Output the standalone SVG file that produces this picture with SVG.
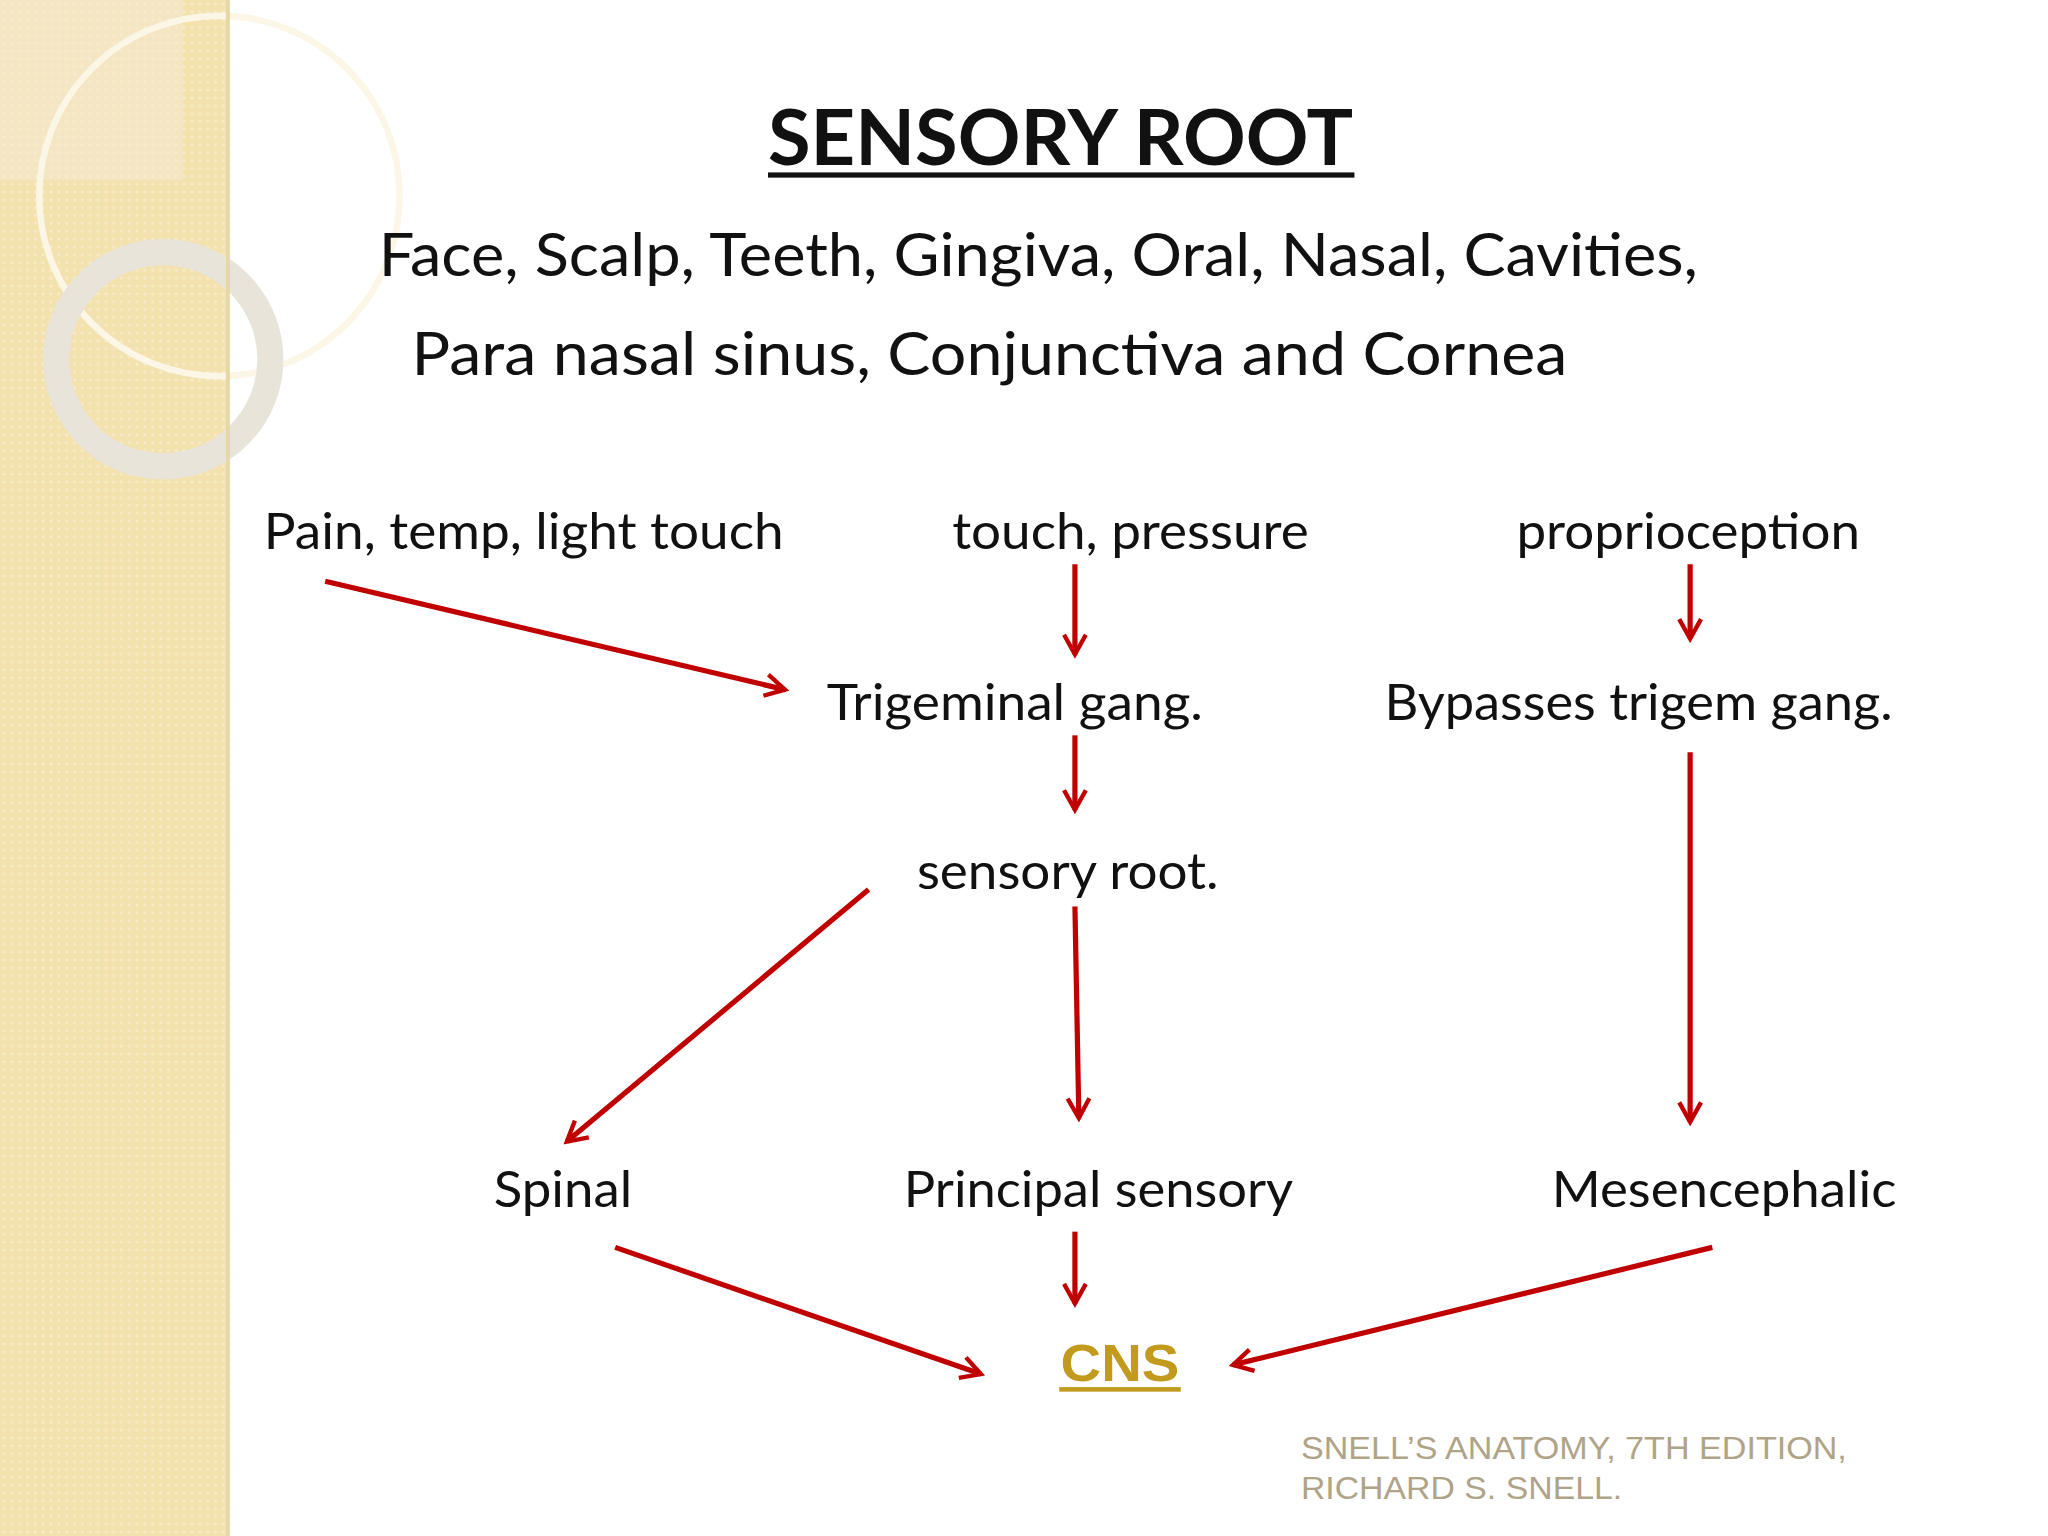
<svg xmlns="http://www.w3.org/2000/svg" width="2048" height="1536" viewBox="0 0 2048 1536">
<defs>
<style>
.t{font-family:Lato,"Open Sans",sans-serif;font-size:38px;fill:#111}
.a{stroke:#c00000;stroke-width:4;fill:none;marker-end:url(#ah)}
</style>
<marker id="ah" viewBox="0 0 12 12" refX="10" refY="6" markerWidth="5" markerHeight="5" orient="auto" markerUnits="strokeWidth">
<path d="M1,1 L10,6 L1,11" fill="none" stroke="#c00000" stroke-width="2"/>
</marker>
<pattern id="pt" width="6" height="6" patternUnits="userSpaceOnUse">
<rect width="6" height="6" fill="#f3e1ae"/><circle cx="3" cy="3" r="1.3" fill="#f8ecc8"/>
</pattern>
</defs>
<rect width="2048" height="1536" fill="#fff"/>
<g transform="scale(1.30612)">
<g id="band">
<rect x="0" y="0" width="173" height="1176" fill="url(#pt)"/>
<rect x="0" y="0" width="140" height="138" fill="#f6ead0" opacity="0.6"/>
<circle cx="168" cy="150" r="138" fill="none" stroke="#fbf6e6" stroke-width="5"/>
<circle cx="125" cy="275" r="82" fill="none" stroke="#e8e4da" stroke-width="20"/>
<rect x="173" y="0" width="3" height="1176" fill="#e6d7a8"/>
</g>
<g id="title">
<text x="812" y="126" text-anchor="middle" style="font-family:Lato,sans-serif;font-weight:bold;font-size:58px;fill:#111" textLength="448" lengthAdjust="spacingAndGlyphs">SENSORY ROOT</text>
<rect x="588" y="132" width="449" height="4" fill="#111"/>
</g>
<g id="subtitle">
<text class="t" x="290" y="211" style="font-size:46px" textLength="1010" lengthAdjust="spacingAndGlyphs">Face, Scalp, Teeth, Gingiva, Oral, Nasal, Cavities,</text>
<text class="t" x="315" y="287" style="font-size:46px" textLength="885" lengthAdjust="spacingAndGlyphs">Para nasal sinus,  Conjunctiva and  Cornea</text>
</g>
<g id="n1"><text class="t" x="202" y="420" textLength="398" lengthAdjust="spacingAndGlyphs">Pain, temp, light touch</text></g>
<g id="n2"><text class="t" x="729" y="420" textLength="273" lengthAdjust="spacingAndGlyphs">touch, pressure</text></g>
<g id="n3"><text class="t" x="1161" y="420" textLength="263" lengthAdjust="spacingAndGlyphs">proprioception</text></g>
<g id="n4"><text class="t" x="633" y="551" textLength="288" lengthAdjust="spacingAndGlyphs">Trigeminal gang.</text></g>
<g id="n5"><text class="t" x="1060" y="551" textLength="389" lengthAdjust="spacingAndGlyphs">Bypasses trigem gang.</text></g>
<g id="n6"><text class="t" x="702" y="681" textLength="231" lengthAdjust="spacingAndGlyphs">sensory root.</text></g>
<g id="n7"><text class="t" x="378" y="924" textLength="106" lengthAdjust="spacingAndGlyphs">Spinal</text></g>
<g id="n8"><text class="t" x="692" y="924" textLength="298" lengthAdjust="spacingAndGlyphs">Principal sensory</text></g>
<g id="n9"><text class="t" x="1188" y="924" textLength="264" lengthAdjust="spacingAndGlyphs">Mesencephalic</text></g>
<g id="cns">
<text x="812" y="1057" style="font-family:'Liberation Sans',Arial,sans-serif;font-weight:bold;font-size:40px;fill:#c19a1e" textLength="91" lengthAdjust="spacingAndGlyphs">CNS</text>
<rect x="811" y="1062" width="93" height="3.5" fill="#c19a1e"/>
</g>
<g id="credit" style="font-family:'Liberation Sans',Arial,sans-serif;font-size:24px;fill:#b0a488">
<text x="996" y="1117" textLength="418" lengthAdjust="spacingAndGlyphs">SNELL’S ANATOMY, 7TH EDITION,</text>
<text x="996" y="1148" textLength="246" lengthAdjust="spacingAndGlyphs">RICHARD S. SNELL.</text>
</g>
<g id="connectors">
<line class="a" x1="249" y1="445" x2="601" y2="528"/>
<line class="a" x1="823" y1="432" x2="823" y2="501"/>
<line class="a" x1="1294" y1="432" x2="1294" y2="489"/>
<line class="a" x1="823" y1="563" x2="823" y2="620"/>
<line class="a" x1="1294" y1="576" x2="1294" y2="859"/>
<line class="a" x1="665" y1="681" x2="434" y2="874"/>
<line class="a" x1="823" y1="694" x2="826" y2="856"/>
<line class="a" x1="823" y1="943" x2="823" y2="998"/>
<line class="a" x1="471" y1="955" x2="751" y2="1052"/>
<line class="a" x1="1311" y1="955" x2="944" y2="1045"/>
</g>
</g>
</svg>
